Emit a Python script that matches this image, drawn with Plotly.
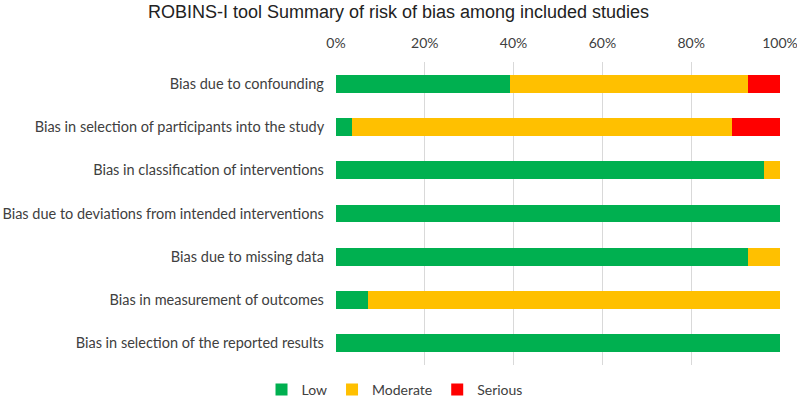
import plotly.graph_objects as go

categories = [
    "Bias due to confounding",
    "Bias in selection of participants into the study",
    "Bias in classification of interventions",
    "Bias due to deviations from intended interventions",
    "Bias due to missing data",
    "Bias in measurement of outcomes",
    "Bias in selection of the reported results",
]
low = [39.3, 3.6, 96.4, 100.0, 92.9, 7.1, 100.0]
moderate = [53.6, 85.7, 3.6, 0.0, 7.1, 92.9, 0.0]
serious = [7.1, 10.7, 0.0, 0.0, 0.0, 0.0, 0.0]
tick_vals = [0, 20, 40, 60, 80, 100]
tick_text = ["0%", "20%", "40%", "60%", "80%", "100%"]

fig = go.Figure()
for name, vals, col in [("Low", low, "#00B050"), ("Moderate", moderate, "#FFC000"), ("Serious", serious, "#FF0000")]:
    fig.add_trace(go.Bar(y=categories, x=vals, name=name, orientation="h",
                         marker=dict(color=col, line=dict(width=0)),
                         hoverinfo="x+y+name"))

fig.update_layout(
    barmode="stack",
    bargap=0.59,
    width=797, height=406,
    margin=dict(l=336, r=17, t=62, b=41),
    paper_bgcolor="white", plot_bgcolor="white",
    title=dict(text="ROBINS-I tool Summary of risk of bias among included studies",
               x=0.5, xref="container", xanchor="center", y=0.97, yanchor="middle",
               font=dict(family="Liberation Sans", size=18, color="#222222")),
    xaxis=dict(side="top", range=[0, 100], tickvals=tick_vals, ticktext=tick_text,
               showgrid=True, gridcolor="#D9D9D9", gridwidth=1, zeroline=False,
               showline=False, ticks="", ticklabelstandoff=10, ticklabeloverflow="allow",
               tickfont=dict(family="Lato", size=14, color="#404040")),
    yaxis=dict(categoryorder="array", categoryarray=categories[::-1], autorange=True,
               showgrid=False, showline=False, ticks="", ticksuffix="   ",
               tickfont=dict(family="Lato", size=14.5, color="#404040")),
    legend=dict(orientation="h", x=0.495, xref="container", xanchor="center", y=0.0, yanchor="bottom",
                yref="container", traceorder="normal", itemwidth=30,
                font=dict(family="Lato", size=14, color="#404040")),
    showlegend=True,
)
fig.update_xaxes(automargin=False)
fig.update_yaxes(automargin=False)
fig.write_html("out.html", config={"displayModeBar": False},
               post_script="document.body.style.margin='0';")
